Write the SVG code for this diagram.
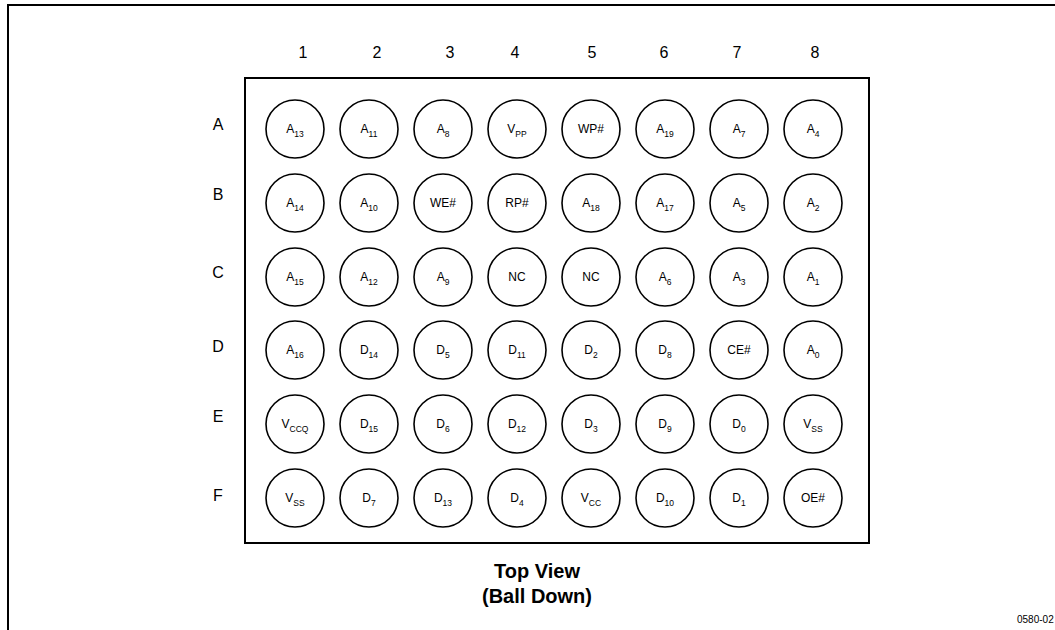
<svg xmlns="http://www.w3.org/2000/svg" width="1055" height="630" viewBox="0 0 1055 630">
<style>
.frame{fill:none;stroke:#000;stroke-width:2}
.ball{fill:#fff;stroke:#000;stroke-width:1.6}
.lbl{font-family:"Liberation Sans",Arial,sans-serif;font-size:12px;text-anchor:middle;fill:#000}
.sub{font-size:8.5px}
.hdr{font-family:"Liberation Sans",Arial,sans-serif;font-size:16px;text-anchor:middle;fill:#000}
.title{font-family:"Liberation Sans",Arial,sans-serif;font-size:20px;font-weight:bold;text-anchor:middle;fill:#000}
.fig{font-family:"Liberation Sans",Arial,sans-serif;font-size:10px;fill:#000}
</style>
<rect width="1055" height="630" fill="#fff"/>
<g id="frame">
<path class="frame" d="M8,630 V5 H1055"/>
<rect id="package" class="frame" x="245" y="78" width="624" height="465"/>
</g>
<g id="col-labels">
<text class="hdr" x="303" y="58">1</text>
<text class="hdr" x="377" y="58">2</text>
<text class="hdr" x="450" y="58">3</text>
<text class="hdr" x="515" y="58">4</text>
<text class="hdr" x="592" y="58">5</text>
<text class="hdr" x="664" y="58">6</text>
<text class="hdr" x="737" y="58">7</text>
<text class="hdr" x="815" y="58">8</text>
</g>
<g id="row-labels">
<text class="hdr" x="218" y="130">A</text>
<text class="hdr" x="218" y="200">B</text>
<text class="hdr" x="218" y="278">C</text>
<text class="hdr" x="218" y="352">D</text>
<text class="hdr" x="218" y="422">E</text>
<text class="hdr" x="218" y="501">F</text>
</g>
<g id="connectors"></g>
<!-- Row A y=129 -->
<g id="A1"><circle class="ball" cx="295" cy="129" r="29"/><text class="lbl" x="295" y="133">A<tspan class="sub" dy="4">13</tspan></text></g>
<g id="A2"><circle class="ball" cx="369" cy="129" r="29"/><text class="lbl" x="369" y="133">A<tspan class="sub" dy="4">11</tspan></text></g>
<g id="A3"><circle class="ball" cx="443" cy="129" r="29"/><text class="lbl" x="443" y="133">A<tspan class="sub" dy="4">8</tspan></text></g>
<g id="A4"><circle class="ball" cx="517" cy="129" r="29"/><text class="lbl" x="517" y="133">V<tspan class="sub" dy="4">PP</tspan></text></g>
<g id="A5"><circle class="ball" cx="591" cy="129" r="29"/><text class="lbl" x="591" y="133">WP#</text></g>
<g id="A6"><circle class="ball" cx="665" cy="129" r="29"/><text class="lbl" x="665" y="133">A<tspan class="sub" dy="4">19</tspan></text></g>
<g id="A7"><circle class="ball" cx="739" cy="129" r="29"/><text class="lbl" x="739" y="133">A<tspan class="sub" dy="4">7</tspan></text></g>
<g id="A8"><circle class="ball" cx="813" cy="129" r="29"/><text class="lbl" x="813" y="133">A<tspan class="sub" dy="4">4</tspan></text></g>
<!-- Row B y=203 -->
<g id="B1"><circle class="ball" cx="295" cy="203" r="29"/><text class="lbl" x="295" y="207">A<tspan class="sub" dy="4">14</tspan></text></g>
<g id="B2"><circle class="ball" cx="369" cy="203" r="29"/><text class="lbl" x="369" y="207">A<tspan class="sub" dy="4">10</tspan></text></g>
<g id="B3"><circle class="ball" cx="443" cy="203" r="29"/><text class="lbl" x="443" y="207">WE#</text></g>
<g id="B4"><circle class="ball" cx="517" cy="203" r="29"/><text class="lbl" x="517" y="207">RP#</text></g>
<g id="B5"><circle class="ball" cx="591" cy="203" r="29"/><text class="lbl" x="591" y="207">A<tspan class="sub" dy="4">18</tspan></text></g>
<g id="B6"><circle class="ball" cx="665" cy="203" r="29"/><text class="lbl" x="665" y="207">A<tspan class="sub" dy="4">17</tspan></text></g>
<g id="B7"><circle class="ball" cx="739" cy="203" r="29"/><text class="lbl" x="739" y="207">A<tspan class="sub" dy="4">5</tspan></text></g>
<g id="B8"><circle class="ball" cx="813" cy="203" r="29"/><text class="lbl" x="813" y="207">A<tspan class="sub" dy="4">2</tspan></text></g>
<!-- Row C y=277 -->
<g id="C1"><circle class="ball" cx="295" cy="277" r="29"/><text class="lbl" x="295" y="281">A<tspan class="sub" dy="4">15</tspan></text></g>
<g id="C2"><circle class="ball" cx="369" cy="277" r="29"/><text class="lbl" x="369" y="281">A<tspan class="sub" dy="4">12</tspan></text></g>
<g id="C3"><circle class="ball" cx="443" cy="277" r="29"/><text class="lbl" x="443" y="281">A<tspan class="sub" dy="4">9</tspan></text></g>
<g id="C4"><circle class="ball" cx="517" cy="277" r="29"/><text class="lbl" x="517" y="281">NC</text></g>
<g id="C5"><circle class="ball" cx="591" cy="277" r="29"/><text class="lbl" x="591" y="281">NC</text></g>
<g id="C6"><circle class="ball" cx="665" cy="277" r="29"/><text class="lbl" x="665" y="281">A<tspan class="sub" dy="4">6</tspan></text></g>
<g id="C7"><circle class="ball" cx="739" cy="277" r="29"/><text class="lbl" x="739" y="281">A<tspan class="sub" dy="4">3</tspan></text></g>
<g id="C8"><circle class="ball" cx="813" cy="277" r="29"/><text class="lbl" x="813" y="281">A<tspan class="sub" dy="4">1</tspan></text></g>
<!-- Row D y=350 -->
<g id="D1"><circle class="ball" cx="295" cy="350" r="29"/><text class="lbl" x="295" y="354">A<tspan class="sub" dy="4">16</tspan></text></g>
<g id="D2"><circle class="ball" cx="369" cy="350" r="29"/><text class="lbl" x="369" y="354">D<tspan class="sub" dy="4">14</tspan></text></g>
<g id="D3"><circle class="ball" cx="443" cy="350" r="29"/><text class="lbl" x="443" y="354">D<tspan class="sub" dy="4">5</tspan></text></g>
<g id="D4"><circle class="ball" cx="517" cy="350" r="29"/><text class="lbl" x="517" y="354">D<tspan class="sub" dy="4">11</tspan></text></g>
<g id="D5"><circle class="ball" cx="591" cy="350" r="29"/><text class="lbl" x="591" y="354">D<tspan class="sub" dy="4">2</tspan></text></g>
<g id="D6"><circle class="ball" cx="665" cy="350" r="29"/><text class="lbl" x="665" y="354">D<tspan class="sub" dy="4">8</tspan></text></g>
<g id="D7"><circle class="ball" cx="739" cy="350" r="29"/><text class="lbl" x="739" y="354">CE#</text></g>
<g id="D8"><circle class="ball" cx="813" cy="350" r="29"/><text class="lbl" x="813" y="354">A<tspan class="sub" dy="4">0</tspan></text></g>
<!-- Row E y=424 -->
<g id="E1"><circle class="ball" cx="295" cy="424" r="29"/><text class="lbl" x="295" y="428">V<tspan class="sub" dy="4">CCQ</tspan></text></g>
<g id="E2"><circle class="ball" cx="369" cy="424" r="29"/><text class="lbl" x="369" y="428">D<tspan class="sub" dy="4">15</tspan></text></g>
<g id="E3"><circle class="ball" cx="443" cy="424" r="29"/><text class="lbl" x="443" y="428">D<tspan class="sub" dy="4">6</tspan></text></g>
<g id="E4"><circle class="ball" cx="517" cy="424" r="29"/><text class="lbl" x="517" y="428">D<tspan class="sub" dy="4">12</tspan></text></g>
<g id="E5"><circle class="ball" cx="591" cy="424" r="29"/><text class="lbl" x="591" y="428">D<tspan class="sub" dy="4">3</tspan></text></g>
<g id="E6"><circle class="ball" cx="665" cy="424" r="29"/><text class="lbl" x="665" y="428">D<tspan class="sub" dy="4">9</tspan></text></g>
<g id="E7"><circle class="ball" cx="739" cy="424" r="29"/><text class="lbl" x="739" y="428">D<tspan class="sub" dy="4">0</tspan></text></g>
<g id="E8"><circle class="ball" cx="813" cy="424" r="29"/><text class="lbl" x="813" y="428">V<tspan class="sub" dy="4">SS</tspan></text></g>
<!-- Row F y=498 -->
<g id="F1"><circle class="ball" cx="295" cy="498" r="29"/><text class="lbl" x="295" y="502">V<tspan class="sub" dy="4">SS</tspan></text></g>
<g id="F2"><circle class="ball" cx="369" cy="498" r="29"/><text class="lbl" x="369" y="502">D<tspan class="sub" dy="4">7</tspan></text></g>
<g id="F3"><circle class="ball" cx="443" cy="498" r="29"/><text class="lbl" x="443" y="502">D<tspan class="sub" dy="4">13</tspan></text></g>
<g id="F4"><circle class="ball" cx="517" cy="498" r="29"/><text class="lbl" x="517" y="502">D<tspan class="sub" dy="4">4</tspan></text></g>
<g id="F5"><circle class="ball" cx="591" cy="498" r="29"/><text class="lbl" x="591" y="502">V<tspan class="sub" dy="4">CC</tspan></text></g>
<g id="F6"><circle class="ball" cx="665" cy="498" r="29"/><text class="lbl" x="665" y="502">D<tspan class="sub" dy="4">10</tspan></text></g>
<g id="F7"><circle class="ball" cx="739" cy="498" r="29"/><text class="lbl" x="739" y="502">D<tspan class="sub" dy="4">1</tspan></text></g>
<g id="F8"><circle class="ball" cx="813" cy="498" r="29"/><text class="lbl" x="813" y="502">OE#</text></g>
<g id="caption">
<text class="title" x="537" y="578">Top View</text>
<text class="title" x="537" y="603">(Ball Down)</text>
<text class="fig" x="1017" y="623">0580-02</text>
</g>
</svg>
